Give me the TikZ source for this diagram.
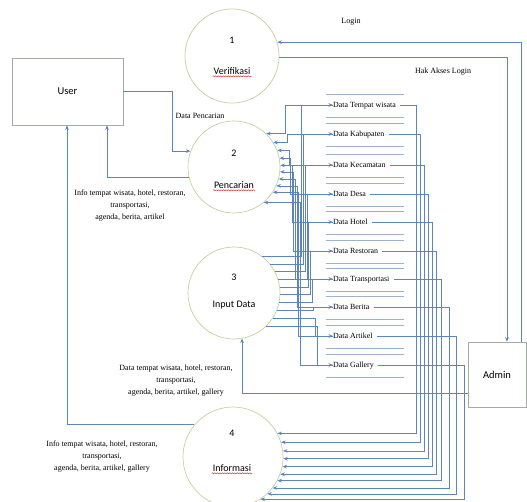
\documentclass[tikz,border=0pt]{standalone}
\usepackage{fontspec}
\setmainfont{Liberation Serif}
\newfontfamily\calib{Carlito}
\usetikzlibrary{arrows.meta,decorations.pathmorphing}
\definecolor{flowc}{HTML}{5A85BE}
\definecolor{ringc}{HTML}{C4D3A0}
\definecolor{boxc}{HTML}{A3ABA3}
\definecolor{storec}{HTML}{9CB2D0}
\definecolor{typoc}{HTML}{E03A3A}
\begin{document}
\begin{tikzpicture}[x=1pt,y=-1pt,
  proc/.style={circle,draw=ringc,line width=0.7pt,inner sep=0pt,minimum size=#1},
  entity/.style={rectangle,draw=boxc,line width=0.6pt,font=\calib\fontsize{10.5}{12}\selectfont},
  ptxt/.style={font=\calib\fontsize{10}{12}\selectfont,inner sep=1pt},
  stxt/.style={font=\fontsize{7.9}{9}\selectfont,inner sep=0pt,text height=1.4ex,text depth=0.3ex,anchor=west},
  ltxt/.style={font=\fontsize{8}{12}\selectfont,align=center,inner sep=0pt},
  flow/.style={draw=flowc,line width=0.6pt},
  arr/.style={-{Stealth[length=4.5pt,width=3.6pt]}},
  storeline/.style={draw=storec,line width=0.7pt},
  typo/.style={draw=typoc,line width=0.5pt,decorate,decoration={snake,amplitude=0.5pt,segment length=2.5pt}}
]
\useasboundingbox (0,0) rectangle (527,501);
\fill[white] (0,0) rectangle (527,501);

% processes
\node[proc=94pt]  (p1) at (232,56)  {};
\node[proc=92pt]  (p2) at (234,167) {};
\node[proc=92pt]  (p3) at (234,293) {};
\node[proc=100pt] (p4) at (233,457) {};

\node[ptxt] (n1) at (232,40)  {1};
\node[ptxt] (t1) at (232,71)  {Verifikasi};
\node[ptxt] (n2) at (234,153) {2};
\node[ptxt] (t2) at (234,185) {Pencarian};
\node[ptxt] (n3) at (234,277) {3};
\node[ptxt] (t3) at (234,305) {Input Data};
\node[ptxt] (n4) at (232,433) {4};
\node[ptxt] (t4) at (232,468) {Informasi};
\foreach \t in {t1,t2,t4}
  \draw[typo] ([yshift=-0.6pt]\t.south west) -- ([yshift=-0.6pt]\t.south east);

% external entities
\node[entity,minimum width=111pt,minimum height=67pt] (user)  at (67.5,91.5) {User};
\node[entity,minimum width=58pt,minimum height=65pt]  (admin) at (497,374.5) {Admin};

% data stores
\foreach \k/\yy/\txt in {1/105/Data Tempat wisata,2/134/Data Kabupaten,3/165/Data Kecamatan,
    4/194/Data Desa,5/222/Data Hotel,6/251/Data Restoran,7/279/Data Transportasi,
    8/307/Data Berita,9/336/Data Artikel,10/365/Data Gallery}{
  \node[stxt] (s\k) at (333,\yy) {\txt};
  \draw[storeline] (326,\yy-11) -- (404,\yy-11);
  \draw[storeline] (326,\yy+12) -- (404,\yy+12);
}

% Input Data -> stores, stores -> Pencarian
\foreach \k/\yy/\yb in {1/105/133,2/134/142,3/165/150,4/194/158,5/222/165,
    6/251/172,7/279/179,8/307/186,9/336/193,10/365/203}{
  \pgfmathsetmacro\ys{255+8*(\k-1)}
  \pgfmathsetmacro\xa{300+1.7*\k}
  \pgfmathsetmacro\xb{284+1.6*\k}
  \pgfmathtruncatemacro\aIn{round(asin((293-\ys)/47.3))}
  \pgfmathtruncatemacro\aOut{round(asin((167-\yb)/47.3))}
  \draw[flow,arr] (p3.\aIn) -| (\xa,\yy) -- (s\k.west);
  \draw[flow,arr] (s\k.west) -- (\xb,\yy) |- (p2.\aOut);
}

% stores -> Informasi
\foreach \k/\yy/\xk/\hh in {1/105/416/433,2/134/420/442,3/165/424/451,4/194/428/459,
    5/222/432/467,6/251/436/474,7/279/441/481,8/307/449/488,9/336/456/494,10/365/464/499}{
  \pgfmathtruncatemacro\aC{round(asin((457-\hh)/50.3))}
  \draw[flow,arr] ([xshift=4pt]s\k.east) -- (\xk,\yy) |- (p4.\aC);
}

% user flows
\draw[flow,arr] (user.east) -- (172,91.5) |- (p2.160);
\draw[flow,arr] (p2.193) -| ([xshift=39.5pt]user.south);
\draw[flow,arr] (p4.140) -| ([xshift=-0.5pt]user.south);

% admin flows
\draw[flow,arr] ([yshift=-18.5pt]admin.west) -| (p3.-80);
\draw[flow,arr] ([xshift=24pt]admin.north) |- (p1.17);
\draw[flow,arr] (p1.-1) -| ([xshift=10pt]admin.north);

% flow labels
\node[ltxt] (lLogin) at (351,22) {Login};
\node[ltxt] (lHak) at (443,72) {Hak Akses Login};
\node[ltxt] (lCari) at (200,116) {Data Pencarian};
\node[ltxt] (lInfo2) at (130,206) {Info tempat wisata, hotel, restoran,\\transportasi,\\agenda, berita, artikel};
\node[ltxt] (lData3) at (176,381) {Data tempat wisata, hotel, restoran,\\transportasi,\\agenda, berita, artikel, gallery};
\node[ltxt] (lInfo4) at (102,457) {Info tempat wisata, hotel, restoran,\\transportasi,\\agenda, berita, artikel, gallery};
\end{tikzpicture}
\end{document}
